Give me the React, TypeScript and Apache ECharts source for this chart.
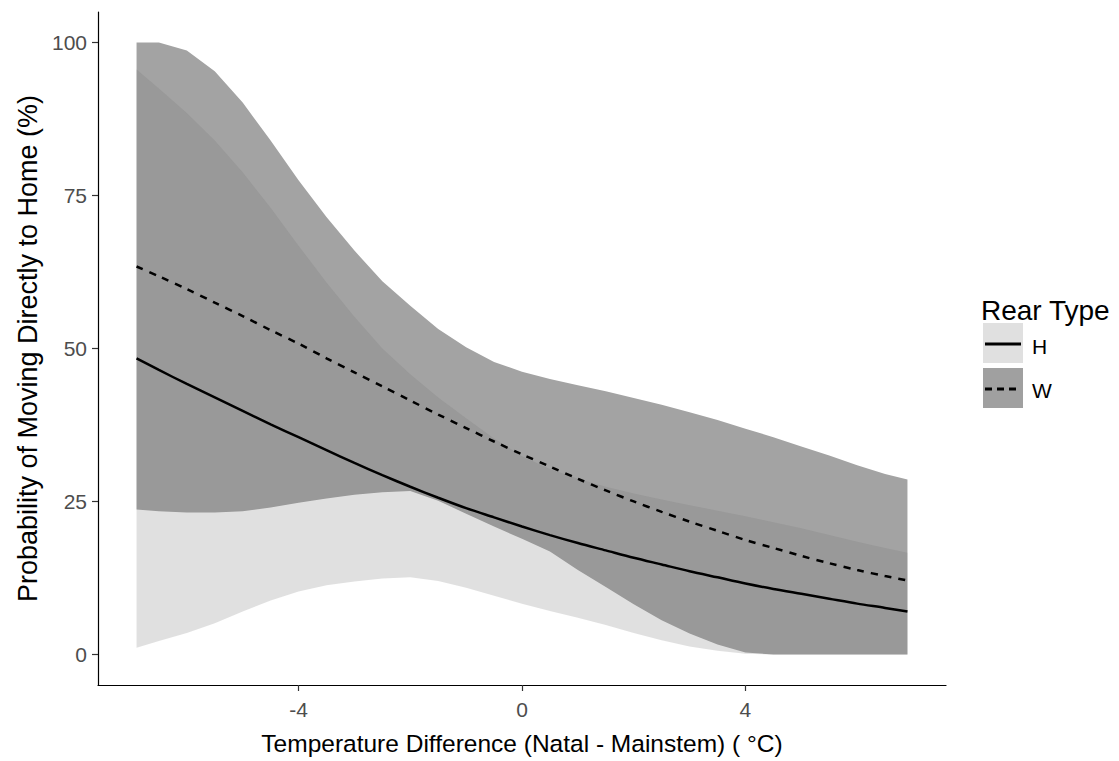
import React, { useEffect, useRef } from "react";
import * as echarts from "echarts";

// Temperature difference (Natal - Mainstem), °C
const tempDiff = [-6.9, -6.5, -6, -5.5, -5, -4.5, -4, -3.5, -3, -2.5, -2, -1.5, -1, -0.5, 0, 0.5, 1, 1.5, 2, 2.5, 3, 3.5, 4, 4.5, 5, 5.5, 6, 6.5, 6.9];

// Rear type H
const hFit = [48.4, 46.5, 44.2, 42.0, 39.8, 37.6, 35.5, 33.4, 31.3, 29.3, 27.4, 25.6, 23.9, 22.4, 20.9, 19.5, 18.2, 17.0, 15.8, 14.7, 13.6, 12.6, 11.6, 10.7, 9.9, 9.1, 8.3, 7.6, 7.0];
const hLower = [1.1, 2.2, 3.5, 5.1, 7.0, 8.8, 10.3, 11.3, 11.9, 12.4, 12.6, 12.0, 10.9, 9.6, 8.3, 7.1, 6.0, 4.8, 3.5, 2.3, 1.3, 0.6, 0.1, 0, 0, 0, 0, 0, 0];
const hUpper = [95.6, 92.5, 88.5, 84.0, 78.8, 73.0, 66.8, 60.8, 55.2, 50.0, 45.8, 42.0, 38.6, 35.3, 32.4, 30.3, 28.7, 27.4, 26.3, 25.3, 24.4, 23.5, 22.6, 21.6, 20.6, 19.5, 18.4, 17.4, 16.6];

// Rear type W
const wFit = [63.4, 61.8, 59.7, 57.5, 55.3, 53.0, 50.8, 48.4, 46.1, 43.8, 41.5, 39.2, 37.0, 34.8, 32.7, 30.7, 28.7, 26.8, 25.0, 23.3, 21.7, 20.2, 18.7, 17.4, 16.1, 14.9, 13.8, 12.8, 12.1];
const wLower = [23.7, 23.4, 23.2, 23.2, 23.4, 24.0, 24.8, 25.5, 26.1, 26.5, 26.7, 25.1, 23.0, 20.9, 18.9, 16.8, 13.8, 11.0, 8.2, 5.6, 3.4, 1.6, 0.3, 0, 0, 0, 0, 0, 0];
const wUpper = [100, 100, 98.7, 95.3, 90.2, 84.0, 77.5, 71.5, 66.0, 61.0, 57.0, 53.2, 50.2, 47.8, 46.2, 45.0, 44.0, 43.0, 41.9, 40.8, 39.6, 38.3, 36.9, 35.5, 34.0, 32.5, 30.9, 29.5, 28.6];

const xTicks = [-4, 0, 4];
const yTicks = [0, 25, 50, 75, 100];
const rearTypes = ["H", "W"];

const FONT = "'Liberation Sans', Arial, sans-serif";

const pairs = (ys: number[]) => tempDiff.map((x, i) => [x, ys[i]]);

const ribbon = (name: string, lo: number[], hi: number[], fill: string) => ({
  type: "custom" as const,
  name,
  silent: true,
  data: tempDiff.map((x, i) => [x, lo[i], hi[i]]),
  encode: { x: 0, y: [1, 2] },
  renderItem: (params: any, api: any) => {
    if (params.dataIndex !== 0) return null;
    const top = tempDiff.map((x, i) => api.coord([x, hi[i]]));
    const bottom = tempDiff.map((x, i) => api.coord([x, lo[i]])).reverse();
    return {
      type: "polygon",
      shape: { points: top.concat(bottom) },
      style: { fill },
    };
  },
});

export default function App() {
  const ref = useRef<HTMLDivElement>(null);
  useEffect(() => {
    if (!ref.current) return;
    const chart = echarts.init(ref.current, undefined, { renderer: "svg" });
    const xPad = (tempDiff[tempDiff.length - 1] - tempDiff[0]) * 0.05;
    const lineBase = {
      type: "line" as const,
      symbol: "none",
      silent: true,
      smooth: 0.3,
    };
    chart.setOption({
      animation: false,
      textStyle: { fontFamily: FONT },
      grid: { left: 98, right: 173, top: 12, bottom: 75 },
      xAxis: {
        type: "value",
        min: tempDiff[0] - xPad,
        max: tempDiff[tempDiff.length - 1] + xPad,
        name: "Temperature Difference (Natal - Mainstem) ( °C)",
        nameLocation: "middle",
        nameGap: 46,
        nameTextStyle: { fontSize: 24.5, color: "#000", fontFamily: FONT },
        splitLine: { show: false },
        axisLine: { onZero: false, lineStyle: { color: "#000", width: 1.2 } },
        axisTick: { customValues: xTicks, length: 6, lineStyle: { color: "#333", width: 1.2 } },
        axisLabel: { customValues: xTicks, margin: 14, fontSize: 21, color: "#4d4d4d", fontFamily: FONT },
      },
      yAxis: {
        type: "value",
        min: -5,
        max: 105,
        name: "Probability of Moving Directly to Home (%)",
        nameLocation: "middle",
        nameGap: 56,
        nameTextStyle: { fontSize: 27, color: "#000", fontFamily: FONT },
        splitLine: { show: false },
        axisLine: { show: true, onZero: false, lineStyle: { color: "#000", width: 1.2 } },
        axisTick: { show: true, customValues: yTicks, length: 6, lineStyle: { color: "#333", width: 1.2 } },
        axisLabel: { customValues: yTicks, margin: 11, fontSize: 21, color: "#4d4d4d", fontFamily: FONT },
      },
      series: [
        ribbon("W band", wLower, wUpper, "#a3a3a3"),
        ribbon("H band", hLower, hUpper, "rgba(119,119,119,0.228)"),
        { ...lineBase, name: "H", data: pairs(hFit), lineStyle: { color: "#000", width: 2.5 } },
        { ...lineBase, name: "W", data: pairs(wFit), lineStyle: { color: "#000", width: 2.5, type: [7, 7] } },
      ],
      graphic: [
        { type: "text", x: 981, y: 310, style: { text: "Rear Type", fontSize: 28, fill: "#000", fontFamily: FONT, verticalAlign: "middle" } },
        { type: "rect", shape: { x: 983, y: 323, width: 40, height: 40 }, style: { fill: "#e0e0e0" } },
        { type: "line", shape: { x1: 985, y1: 344, x2: 1021, y2: 344 }, style: { stroke: "#000", lineWidth: 3 } },
        { type: "text", x: 1032, y: 346, style: { text: rearTypes[0], fontSize: 21, fill: "#000", fontFamily: FONT, verticalAlign: "middle" } },
        { type: "rect", shape: { x: 983, y: 368, width: 40, height: 40 }, style: { fill: "#a0a0a0" } },
        { type: "line", shape: { x1: 985, y1: 389, x2: 1021, y2: 389 }, style: { stroke: "#000", lineWidth: 3, lineDash: [7, 5] } },
        { type: "text", x: 1032, y: 390, style: { text: rearTypes[1], fontSize: 21, fill: "#000", fontFamily: FONT, verticalAlign: "middle" } },
      ],
    });
    return () => chart.dispose();
  }, []);
  return <div ref={ref} style={{ position: "absolute", left: 0, top: 0, width: 1119, height: 761 }} />;
}
